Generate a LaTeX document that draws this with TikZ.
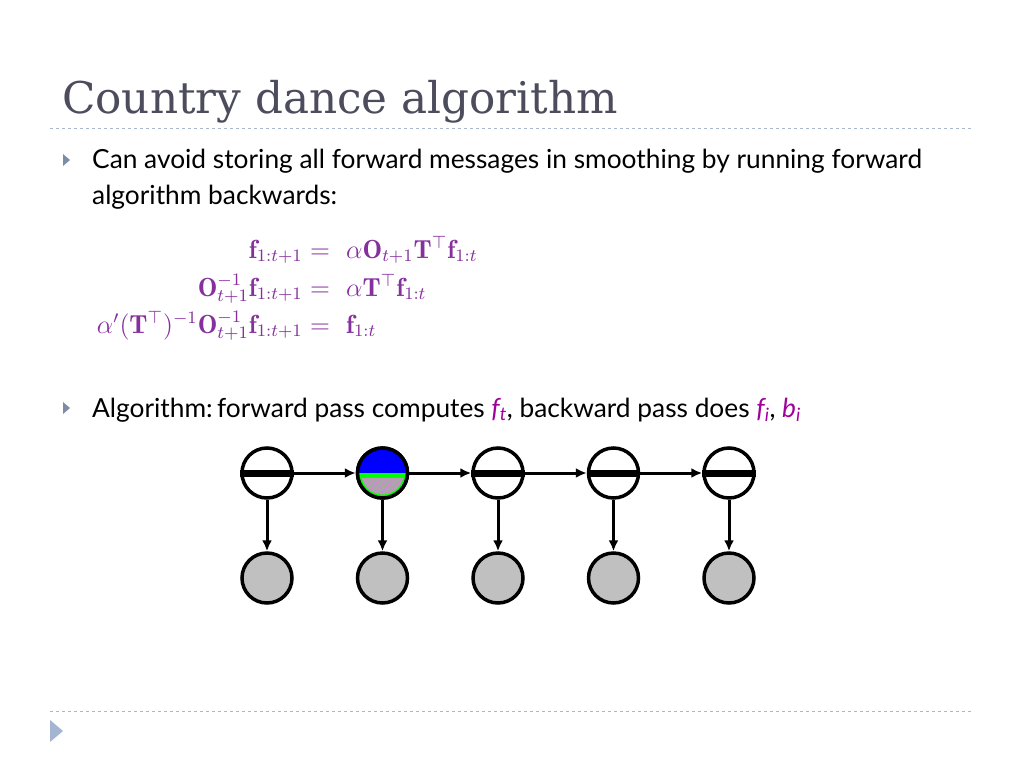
\documentclass[tikz,border=0pt]{standalone}
\usepackage{fontspec}
\setsansfont{Lato}
\newfontfamily\titlefont{DejaVu Serif}
\usetikzlibrary{arrows.meta,patterns.meta}
\definecolor{titlecol}{HTML}{4C4C5C}
\definecolor{mathcol}{HTML}{86309E}
\definecolor{fcol}{HTML}{A0009C}
\definecolor{bulcol}{HTML}{7E8CA6}
\definecolor{dashcol}{HTML}{A9B8CC}
\definecolor{tricol}{HTML}{A3B5D1}
\definecolor{obscol}{HTML}{C0C0C0}
\definecolor{hatchbg}{HTML}{A8A8A8}
\definecolor{hatchfg}{HTML}{C890C8}
\newcommand{\eqs}[1]{\scalebox{2.18}{$#1$}}
\tikzset{
  body/.style={anchor=base west,inner sep=0pt,font=\sffamily\fontsize{26.3}{30}\selectfont},
  eqn/.style={inner sep=0pt,text=mathcol,font=\fontsize{12}{14}\selectfont},
  hid/.style={circle,draw,line width=3.5pt,fill=white,minimum size=50pt,inner sep=0pt},
  obs/.style={circle,draw,line width=3.5pt,fill=obscol,minimum size=50pt,inner sep=0pt},
  arr/.style={line width=3pt,-{Latex[length=11pt,width=10pt]}},
  bar/.style={line width=7pt},
  rule/.style={dashcol,dashed,line width=1pt}
}
\begin{document}
\begin{tikzpicture}[x=1pt,y=-1pt]
\useasboundingbox[fill=white] (0,0) rectangle (1024,768);
% title
\node[anchor=base west,inner sep=0pt,text=titlecol,font=\titlefont\fontsize{43.7}{50}\selectfont] (title) at (62,113) {Country dance algorithm};
\draw[rule] (50,128) -- (972,128);
\draw[rule] (50,711) -- (972,711);
\fill[tricol] (50,720) -- (63,731) -- (50,742) -- cycle;
% bullets
\fill[bulcol] (63,154) -- (70,160) -- (63,166) -- cycle;
\fill[bulcol] (63,402) -- (70,408) -- (63,414) -- cycle;
\node[body] (l1) at (92,168) {Can avoid storing all forward messages in smoothing by running forward};
\node[body] (l2) at (92,204) {algorithm backwards:};
\node[body] (l3) at (92,417) {Algorithm:\,forward pass computes {\color{fcol}\itshape f\textsubscript{t}}, backward pass does {\color{fcol}\itshape f\textsubscript{i}}, {\color{fcol}\itshape b\textsubscript{i}}};
% equations
\node[eqn,anchor=base east] (e1l) at (303,258) {\eqs{\mathbf{f}_{1:t+1}}};
\node[eqn,anchor=base] (e1m) at (320,258) {\eqs{=}};
\node[eqn,anchor=base west] (e1r) at (346,258) {\eqs{\alpha\mathbf{O}_{t+1}\mathbf{T}^{\top}\mathbf{f}_{1:t}}};
\node[eqn,anchor=base east] (e2l) at (303,296) {\eqs{\mathbf{O}^{-1}_{t+1}\mathbf{f}_{1:t+1}}};
\node[eqn,anchor=base] (e2m) at (320,296) {\eqs{=}};
\node[eqn,anchor=base west] (e2r) at (346,296) {\eqs{\alpha\mathbf{T}^{\top}\mathbf{f}_{1:t}}};
\node[eqn,anchor=base east] (e3l) at (303,333) {\eqs{\alpha'(\mathbf{T}^{\top})^{-1}\mathbf{O}^{-1}_{t+1}\mathbf{f}_{1:t+1}}};
\node[eqn,anchor=base] (e3m) at (320,333) {\eqs{=}};
\node[eqn,anchor=base west] (e3r) at (346,333) {\eqs{\mathbf{f}_{1:t}}};
% graph
\foreach \i/\x in {1/267,2/382.5,3/498,4/613.5,5/729}{
  \node[hid] (h\i) at (\x,473) {};
  \node[obs] (o\i) at (\x,578) {};
}
% special node 2
\begin{scope}
  \clip (h2.center) circle (25);
  \fill[blue] ([shift={(-30,-30)}]h2.center) rectangle ([shift={(30,0)}]h2.center);
  \fill[green] ([shift={(-30,0)}]h2.center) rectangle ([shift={(30,30)}]h2.center);
  \clip (h2.center) circle (21.5);
  \fill[hatchbg] ([shift={(-30,5)}]h2.center) rectangle ([shift={(30,30)}]h2.center);
  \fill[pattern={Lines[angle=45,distance=5pt,line width=1.8pt]},pattern color=hatchfg] ([shift={(-30,5)}]h2.center) rectangle ([shift={(30,30)}]h2.center);
\end{scope}
\draw[line width=3.5pt] (h2.center) circle (25);
\foreach \i in {1,3,4,5}{ \draw[bar] (h\i.west) -- (h\i.east); }
\foreach \i/\j in {1/2,2/3,3/4,4/5}{ \draw[arr] (h\i.east) -- (h\j.west); }
\foreach \i in {1,...,5}{ \draw[arr] (h\i.south) -- (o\i.north); }
\end{tikzpicture}
\end{document}
